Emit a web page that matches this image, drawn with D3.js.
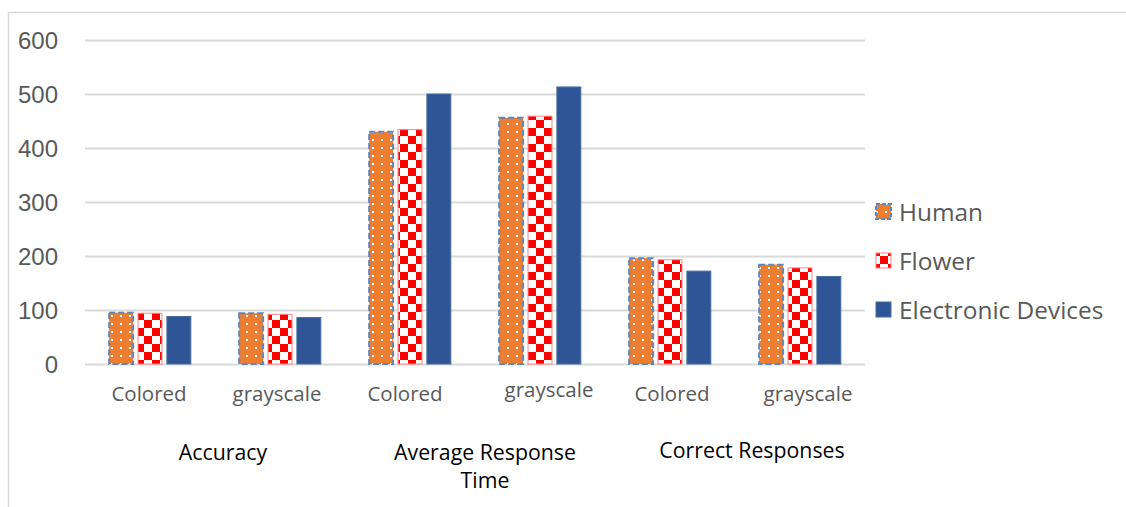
<!DOCTYPE html>
<html><head><meta charset="utf-8">
<script src="https://cdn.jsdelivr.net/npm/d3@7"></script>
<style>
html,body{margin:0;padding:0;background:#fff;}
svg{display:block;font-family:"Open Sans","Noto Sans",sans-serif;}
</style></head>
<body>
<svg id="c" width="1126" height="507"></svg>
<script>
// ---- data ----
const categories = ["Colored","grayscale","Colored","grayscale","Colored","grayscale"];
const groups = ["Accuracy","Average Response Time","Correct Responses"];
const groupLines = [["Accuracy"],["Average Response","Time"],["Correct Responses"]];
const seriesNames = ["Human","Flower","Electronic Devices"];
const human      = [95, 94, 430, 456, 196, 184];
const flower     = [94, 92, 434, 459, 193, 178];
const electronic = [88, 86, 500, 513, 172, 162];
const yTicks = [0,100,200,300,400,500,600];

// ---- layout ----
const W = 1126, H = 507;
const plot = {left:85, right:865, top:40, bottom:364};
const catLabelDx = [-1,-3,-5,9,2,8];
const catLabelDy = [0,0,0,-4,0,0];
const groupLabelDx = [8,10,17];
const groupLabelY = [460,460,458];

const svg = d3.select("#c");
const defs = svg.append("defs");

// patterns
const pd = defs.append("pattern").attr("id","dots").attr("patternUnits","userSpaceOnUse")
  .attr("width",9).attr("height",8);
pd.append("rect").attr("width",9).attr("height",8).attr("fill","#ED7D31");
pd.append("rect").attr("x",3).attr("y",3).attr("width",2).attr("height",2).attr("fill","#fff");
const pc = defs.append("pattern").attr("id","check").attr("patternUnits","userSpaceOnUse")
  .attr("width",16).attr("height",16).attr("x",0).attr("y",0);
pc.append("rect").attr("width",16).attr("height",16).attr("fill","#fff");
pc.append("rect").attr("width",8).attr("height",8).attr("fill","#FF0000");
pc.append("rect").attr("x",8).attr("y",8).attr("width",8).attr("height",8).attr("fill","#FF0000");

const styles = [
  {fill:"url(#dots)", stroke:"#5B86C0", dash:"6,3", sw:2},
  {fill:"url(#check)", stroke:"#FF8080", dash:null, sw:1},
  {fill:"#2F5597", stroke:"#41719C", dash:null, sw:1}
];

// frame
svg.append("rect").attr("x",8.5).attr("y",12.5).attr("width",1140).attr("height",520)
  .attr("fill","none").attr("stroke","#D9D9D9").attr("stroke-width",1.5);

// scales
const x = d3.scaleBand().domain(d3.range(categories.length)).range([plot.left, plot.right]).padding(0);
const xs = d3.scaleBand().domain(d3.range(seriesNames.length))
  .range([x.bandwidth()*0.186, x.bandwidth()*0.814]).paddingInner(0.17);
const y = d3.scaleLinear().domain([0,600]).range([plot.bottom, plot.top]);

// gridlines
const grid = svg.append("g").attr("transform",`translate(${plot.left},0)`)
  .call(d3.axisLeft(y).tickValues(yTicks).tickSize(-(plot.right-plot.left)).tickFormat(""));
grid.select(".domain").remove();
grid.selectAll("line").attr("stroke","#D9D9D9").attr("stroke-width",2);

// y labels
const yl = svg.append("g").attr("transform","translate(58,0)")
  .call(d3.axisLeft(y).tickValues(yTicks).tickSize(0).tickPadding(0));
yl.select(".domain").remove();
yl.selectAll("text").attr("fill","#595959").style("font-size","24px").attr("dy","0.36em");

// bars
const seriesData = [human, flower, electronic];
seriesData.forEach((vals, si) => {
  const st = styles[si];
  svg.append("g").selectAll("rect").data(vals).join("rect")
    .attr("x",(d,i)=>x(i)+xs(si))
    .attr("y",d=>y(d))
    .attr("width",xs.bandwidth())
    .attr("height",d=>y(0)-y(d))
    .attr("fill",st.fill)
    .attr("stroke",st.stroke)
    .attr("stroke-width",st.sw)
    .attr("stroke-dasharray",st.dash);
});

// category labels
svg.append("g").selectAll("text").data(categories).join("text")
  .attr("x",(d,i)=>x(i)+x.bandwidth()/2+catLabelDx[i])
  .attr("y",(d,i)=>401+catLabelDy[i])
  .attr("text-anchor","middle").attr("fill","#595959").style("font-size","20.5px")
  .text(d=>d);

// group labels
groupLines.forEach((lines,gi)=>{
  const cx = (x(gi*2)+x(gi*2+1)+x.bandwidth())/2 + groupLabelDx[gi];
  const t = svg.append("text").attr("text-anchor","middle").attr("fill","#000")
    .style("font-size","21.3px");
  lines.forEach((ln,li)=>{
    t.append("tspan").attr("x",cx).attr("y",groupLabelY[gi]+li*28).text(ln);
  });
});

// legend
const lg = svg.append("g");
seriesNames.forEach((name,si)=>{
  const cy = 212 + si*49;
  const st = styles[si];
  lg.append("rect").attr("x",876).attr("y",cy-8).attr("width",15).attr("height",15)
    .attr("fill",st.fill).attr("stroke",st.stroke).attr("stroke-width",st.sw)
    .attr("stroke-dasharray",si===0?"4,2":null);
  lg.append("text").attr("x",899).attr("y",cy).attr("dy","0.35em")
    .attr("fill","#595959").style("font-size","24.4px").text(name);
});
</script>
</body></html>
